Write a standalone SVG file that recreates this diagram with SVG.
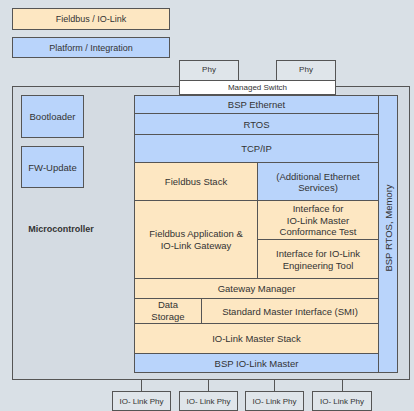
<svg xmlns="http://www.w3.org/2000/svg" width="414" height="411" viewBox="0 0 414 411">
<style>
text{font-family:"Liberation Sans",Arial,sans-serif;fill:#333;text-anchor:middle;dominant-baseline:central}
.t{font-size:9.5px}
.s{font-size:8px}
.tan{fill:#fde7c2;stroke:#555;stroke-width:1}
.blue{fill:#b9d4fb;stroke:#555;stroke-width:1}
.box{fill:#dfe5ea;stroke:#555;stroke-width:1}
.ln{stroke:#555;stroke-width:1;fill:none}
</style>
<rect width="414" height="411" fill="#d9e0e6"/>
<g id="legend-fieldbus"><rect class="tan" x="12.5" y="8.5" width="157" height="21"/><text class="t" x="91" y="19" style="font-size:9px">Fieldbus / IO-Link</text></g>
<g id="legend-platform"><rect class="blue" x="12.5" y="37.5" width="157" height="20"/><text class="t" x="91" y="47.5" style="font-size:9px">Platform / Integration</text></g>
<g id="phy1"><rect class="box" x="179.5" y="60.5" width="59" height="20"/><text class="s" x="209" y="69">Phy</text></g>
<g id="phy2"><rect class="box" x="276.5" y="60.5" width="59" height="20"/><text class="s" x="306" y="69">Phy</text></g>
<g id="microcontroller"><rect x="12.5" y="86.5" width="397" height="293" fill="#d4dbe2" stroke="#555"/><text x="61" y="229" style="font-size:9px;font-weight:bold">Microcontroller</text></g>
<g id="managed-switch"><rect x="179.5" y="80.5" width="156" height="14" fill="#fff" stroke="#555"/><text class="s" x="257.5" y="87.5">Managed Switch</text></g>
<g id="bootloader"><rect class="blue" x="21.5" y="95.5" width="62" height="42"/><text class="t" x="52.5" y="116.5">Bootloader</text></g>
<g id="fw-update"><rect class="blue" x="21.5" y="146.5" width="62" height="41"/><text class="t" x="52.5" y="167">FW-Update</text></g>
<g id="bsp-rtos"><rect class="blue" x="378.5" y="95.5" width="19" height="277"/><text class="t" transform="translate(388.5 228) rotate(-90)">BSP RTOS, Memory</text></g>
<g id="bsp-ethernet"><rect class="blue" x="134.5" y="95.5" width="244" height="18"/><text class="t" x="256.5" y="104.5">BSP Ethernet</text></g>
<g id="rtos"><rect class="blue" x="134.5" y="113.5" width="244" height="21"/><text class="t" x="256.5" y="124">RTOS</text></g>
<g id="tcpip"><rect class="blue" x="134.5" y="134.5" width="244" height="28"/><text class="t" x="256.5" y="148.5">TCP/IP</text></g>
<g id="fieldbus-stack"><rect class="tan" x="134.5" y="162.5" width="123" height="38"/><text class="t" x="196" y="181.5">Fieldbus Stack</text></g>
<g id="additional-ethernet"><rect class="blue" x="257.5" y="162.5" width="121" height="38"/><text class="t" x="318" y="176">(Additional Ethernet</text><text class="t" x="318" y="187.5">Services)</text></g>
<g id="fieldbus-app"><rect class="tan" x="134.5" y="200.5" width="123" height="78"/><text class="t" x="196" y="233.5">Fieldbus Application &amp;</text><text class="t" x="196" y="245">IO-Link Gateway</text></g>
<g id="conformance"><rect class="tan" x="257.5" y="200.5" width="121" height="39"/><text class="t" x="318" y="208.5">Interface for</text><text class="t" x="318" y="220">IO-Link Master</text><text class="t" x="318" y="231">Conformance Test</text></g>
<g id="engineering-tool"><rect class="tan" x="257.5" y="239.5" width="121" height="39"/><text class="t" x="318" y="253.5">Interface for IO-Link</text><text class="t" x="318" y="265">Engineering Tool</text></g>
<g id="gateway-manager"><rect class="tan" x="134.5" y="278.5" width="244" height="20"/><text class="t" x="256.5" y="288.5">Gateway Manager</text></g>
<g id="data-storage"><rect class="tan" x="134.5" y="298.5" width="67" height="25"/><text class="t" x="168" y="304.5">Data</text><text class="t" x="168" y="316">Storage</text></g>
<g id="smi"><rect class="tan" x="201.5" y="298.5" width="177" height="25"/><text class="t" x="290" y="311">Standard Master Interface (SMI)</text></g>
<g id="iolink-master-stack"><rect class="tan" x="134.5" y="323.5" width="244" height="30"/><text class="t" x="256.5" y="338.5">IO-Link Master Stack</text></g>
<g id="bsp-iolink"><rect class="blue" x="134.5" y="353.5" width="244" height="19"/><text class="t" x="256.5" y="363">BSP IO-Link Master</text></g>
<g id="connectors">
<line class="ln" x1="141.5" y1="380" x2="141.5" y2="391"/>
<line class="ln" x1="208.5" y1="380" x2="208.5" y2="391"/>
<line class="ln" x1="274.5" y1="380" x2="274.5" y2="391"/>
<line class="ln" x1="342.5" y1="380" x2="342.5" y2="391"/>
</g>
<g id="iolink-phy1"><rect class="box" x="112.5" y="391.5" width="58" height="19"/><text class="s" x="141.5" y="401">IO- Link Phy</text></g>
<g id="iolink-phy2"><rect class="box" x="179.5" y="391.5" width="58" height="19"/><text class="s" x="208.5" y="401">IO- Link Phy</text></g>
<g id="iolink-phy3"><rect class="box" x="245.5" y="391.5" width="58" height="19"/><text class="s" x="274.5" y="401">IO- Link Phy</text></g>
<g id="iolink-phy4"><rect class="box" x="312.5" y="391.5" width="59" height="19"/><text class="s" x="342" y="401">IO- Link Phy</text></g>
</svg>
